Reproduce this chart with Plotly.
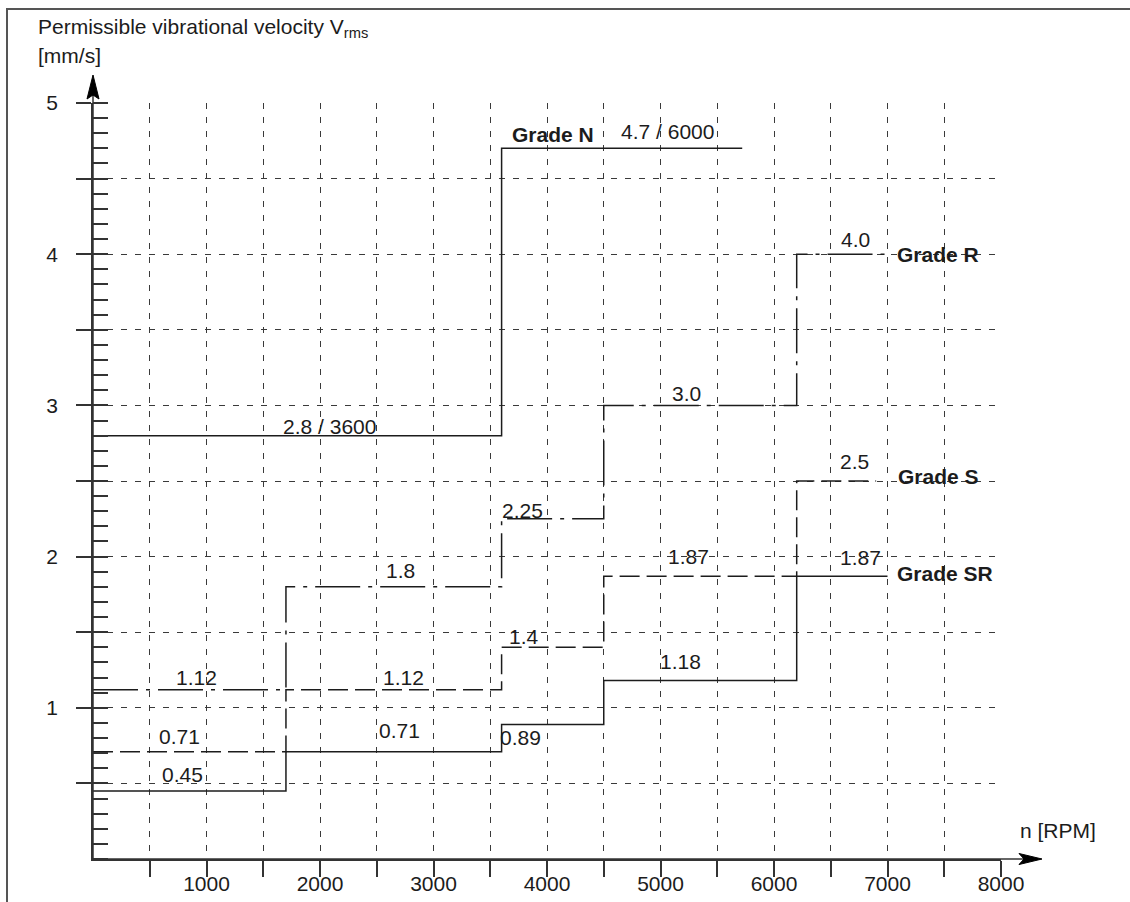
import plotly.graph_objects as go

# ---- data -----------------------------------------------------------------
# speed breakpoints (RPM) of each grade's step curve; the last entry closes the curve
grade_n_rpm = [0, 3600, 5720]
grade_n_vrms = [2.8, 4.7]

grade_r_rpm = [0, 1700, 3600, 4500, 6200, 7000]
grade_r_vrms = [1.12, 1.8, 2.25, 3.0, 4.0]

grade_s_rpm = [0, 1700, 3600, 4500, 6200, 6900]
grade_s_vrms = [0.71, 1.12, 1.4, 1.87, 2.5]

grade_sr_rpm = [0, 1700, 3600, 4500, 6200, 7000]
grade_sr_vrms = [0.45, 0.71, 0.89, 1.18, 1.87]

grade_names = ["Grade N", "Grade R", "Grade S", "Grade SR"]

x_tick_values = [1000 * i for i in range(1, 9)]
x_tick_text = [str(v) for v in x_tick_values]
y_tick_values = [0.5 * i for i in range(1, 11)]
y_tick_text = ["" if v % 1 else str(int(v)) for v in y_tick_values]

# ---- styling --------------------------------------------------------------
FONT = "Liberation Sans, Arial, Helvetica, sans-serif"
FS = 21
INK = "#1c1c1c"
AXIS = "#333333"
GRID = "#3a3a3a"
GRID_DASH = "6px,8px"

W, H = 1130, 902
M_L, M_R, M_T, M_B = 93, 129, 103, 43
PW = W - M_L - M_R
PH = H - M_T - M_B


def px_x(px):
    """pixel column -> paper x"""
    return (px - M_L) / PW


def px_y(py):
    """pixel row -> paper y"""
    return (H - M_B - py) / PH


def step_trace(rpm, vrms, dash, name):
    return go.Scatter(
        x=rpm,
        y=list(vrms) + [vrms[-1]],
        mode="lines",
        line=dict(shape="hv", color=INK, width=1.5, dash=dash),
        name=name,
        hoverinfo="skip",
        showlegend=False,
    )


fig = go.Figure()
fig.add_trace(step_trace(grade_n_rpm, grade_n_vrms, "solid", grade_names[0]))
fig.add_trace(step_trace(grade_r_rpm, grade_r_vrms, "45px,8px,4px,8px", grade_names[1]))
fig.add_trace(step_trace(grade_s_rpm, grade_s_vrms, "20px,7px", grade_names[2]))
fig.add_trace(step_trace(grade_sr_rpm, grade_sr_vrms, "solid", grade_names[3]))


def fmt(v):
    return f"{v:.1f}" if round(v, 1) == v else f"{v:g}"


# value labels: (text, rpm position, vrms position)
value_labels = [
    (f"{fmt(grade_n_vrms[0])} / {grade_n_rpm[1]}", 2085, 2.86),
    (f"{fmt(grade_n_vrms[1])} / 6000", 5060, 4.81),
    (fmt(grade_r_vrms[0]), 916, 1.20),
    (fmt(grade_r_vrms[1]), 2712, 1.91),
    (fmt(grade_r_vrms[2]), 3782, 2.305),
    (fmt(grade_r_vrms[3]), 5227, 3.076),
    (fmt(grade_r_vrms[4]), 6719, 4.095),
    (fmt(grade_s_vrms[0]), 759, 0.813),
    (fmt(grade_s_vrms[1]), 2737, 1.20),
    (fmt(grade_s_vrms[2]), 3800, 1.472),
    (fmt(grade_s_vrms[3]), 5245, 2.004),
    (fmt(grade_s_vrms[4]), 6706, 2.626),
    (fmt(grade_sr_vrms[0]), 787, 0.561),
    (fmt(grade_sr_vrms[1]), 2699, 0.849),
    (fmt(grade_sr_vrms[2]), 3764, 0.806),
    (fmt(grade_sr_vrms[3]), 5174, 1.309),
    (fmt(grade_sr_vrms[4]), 6760, 1.994),
]
grade_label_pos = [(4050, 4.79), (7443, 3.996), (7450, 2.527), (7506, 1.889)]

annotations = []
for text, x, y in value_labels:
    annotations.append(dict(
        x=x, y=y, xref="x", yref="y", text=text, showarrow=False,
        xanchor="center", yanchor="middle",
        font=dict(family=FONT, size=FS, color=INK),
    ))
for name, (x, y) in zip(grade_names, grade_label_pos):
    annotations.append(dict(
        x=x, y=y, xref="x", yref="y", text=f"<b>{name}</b>", showarrow=False,
        xanchor="center", yanchor="middle",
        font=dict(family=FONT, size=FS, color=INK),
    ))

# axis titles
annotations.append(dict(
    x=px_x(37), y=px_y(14), xref="paper", yref="paper",
    text="Permissible vibrational velocity V<sub>rms</sub>", showarrow=False,
    xanchor="left", yanchor="top", borderpad=0,
    font=dict(family=FONT, size=FS, color=INK),
))
annotations.append(dict(
    x=px_x(37), y=px_y(43), xref="paper", yref="paper",
    text="[mm/s]", showarrow=False,
    xanchor="left", yanchor="top", borderpad=0,
    font=dict(family=FONT, size=FS, color=INK),
))
annotations.append(dict(
    x=px_x(1058), y=px_y(830), xref="paper", yref="paper",
    text="n [RPM]", showarrow=False,
    xanchor="center", yanchor="middle", font=dict(family=FONT, size=FS, color=INK),
))

shapes = [
    # outer frame
    dict(type="rect", xref="paper", yref="paper",
         x0=px_x(7), y0=px_y(960), x1=px_x(1200), y1=px_y(9),
         line=dict(color="#555555", width=2), layer="below"),
    # axis extensions towards the arrow heads
    dict(type="line", xref="paper", yref="paper",
         x0=0, y0=0, x1=px_x(1030), y1=0, line=dict(color=AXIS, width=1.5)),
    dict(type="line", xref="paper", yref="paper",
         x0=0, y0=0, x1=0, y1=px_y(90), line=dict(color=AXIS, width=1.5)),
    # arrow heads
    dict(type="path", xref="paper", yref="paper",
         path=(f"M {px_x(93)} {px_y(75)} L {px_x(87)} {px_y(99)} "
               f"L {px_x(93)} {px_y(95)} L {px_x(99)} {px_y(99)} Z"),
         fillcolor="black", line=dict(color="black", width=1)),
    dict(type="path", xref="paper", yref="paper",
         path=(f"M {px_x(1042)} {px_y(859)} L {px_x(1019)} {px_y(853.5)} "
               f"L {px_x(1024)} {px_y(859)} L {px_x(1019)} {px_y(864.5)} Z"),
         fillcolor="black", line=dict(color="black", width=1)),
]

fig.update_layout(
    width=W, height=H,
    margin=dict(l=M_L, r=M_R, t=M_T, b=M_B, autoexpand=False),
    paper_bgcolor="white", plot_bgcolor="white",
    font=dict(family=FONT, size=FS, color=INK),
    showlegend=False,
    annotations=annotations,
    shapes=shapes,
)

fig.update_xaxes(
    range=[0, 8000], tickmode="array", tickvals=x_tick_values, ticktext=x_tick_text,
    ticks="outside", ticklen=16, tickwidth=1.5, tickcolor=AXIS,
    ticklabelstandoff=-11,
    minor=dict(ticks="outside", ticklen=16, tickwidth=1.5, tickcolor=AXIS,
               tick0=500, dtick=1000, showgrid=True,
               gridcolor=GRID, gridwidth=1, griddash=GRID_DASH),
    showline=True, linecolor=AXIS, linewidth=1.5, zeroline=False,
    showgrid=True, gridcolor=GRID, gridwidth=1, griddash=GRID_DASH,
    tickfont=dict(family=FONT, size=FS, color=INK),
)
fig.update_yaxes(
    range=[0, 5], tickmode="array", tickvals=y_tick_values, ticktext=y_tick_text,
    ticks="outside", ticklen=15, tickwidth=1.5, tickcolor=AXIS,
    ticklabelstandoff=14,
    minor=dict(ticks="inside", ticklen=15, tickwidth=1.5, tickcolor=AXIS,
               dtick=0.1, tick0=0, showgrid=False),
    showline=True, linecolor=AXIS, linewidth=1.5, zeroline=False,
    showgrid=True, gridcolor=GRID, gridwidth=1, griddash=GRID_DASH,
    tickfont=dict(family=FONT, size=FS, color=INK),
)

fig.write_html("out.html")
